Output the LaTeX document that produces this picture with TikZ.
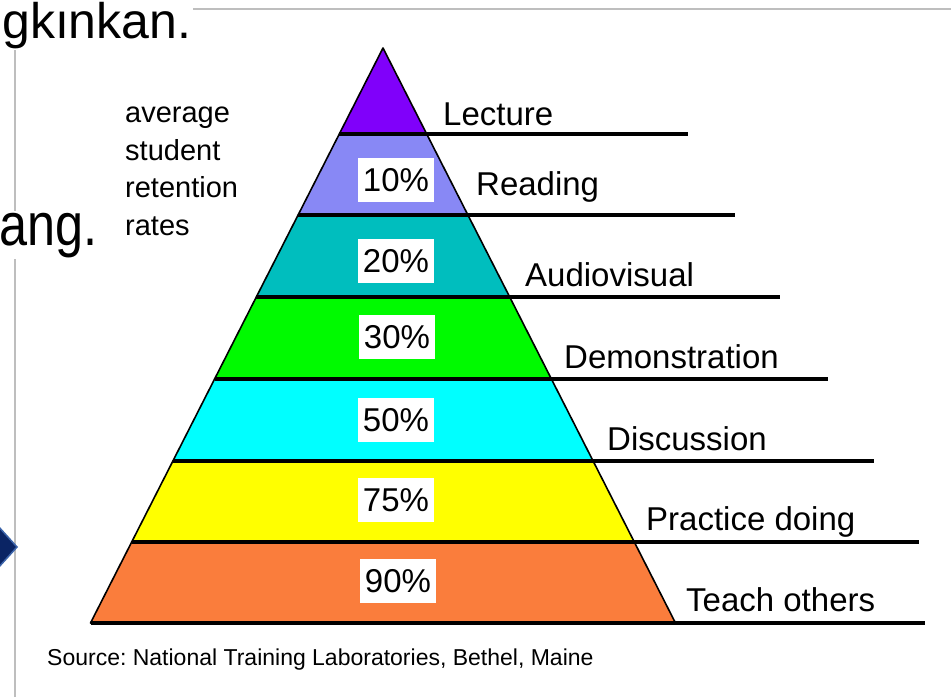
\documentclass[tikz,border=0pt]{standalone}
\usepackage{fontspec}
\setmainfont{Liberation Sans}
\newfontfamily\narrowsans[FakeStretch=0.84]{Liberation Sans}
\definecolor{lecturecol}{RGB}{128,0,250}
\definecolor{readingcol}{RGB}{136,136,245}
\definecolor{avcol}{RGB}{0,190,190}
\definecolor{democol}{RGB}{0,250,0}
\definecolor{discol}{RGB}{0,255,255}
\definecolor{practicecol}{RGB}{255,255,0}
\definecolor{teachcol}{RGB}{250,125,60}
\definecolor{framegray}{RGB}{190,190,190}
\definecolor{arrowblue}{RGB}{10,36,100}
\definecolor{arrowedge}{RGB}{60,100,170}
\begin{document}
\begin{tikzpicture}[x=1pt,y=-1pt,
  band/.style={draw=black,line width=1.6pt,line join=round},
  rim/.style={line width=3.2pt},
  pct/.style={fill=white,inner xsep=5pt,inner ysep=0pt,minimum height=44pt,font=\fontsize{33}{40}\selectfont},
  lbl/.style={anchor=base west,inner sep=0pt,font=\fontsize{33}{40}\selectfont},
  cutword/.style={fill=white,inner sep=2pt,anchor=base west}]
\useasboundingbox (0,0) rectangle (951,697);
\clip (0,0) rectangle (951,697);
\fill[white] (0,0) rectangle (951,697);
% slide frame, arrow and cut words
\draw[framegray,line width=2pt] (15,697) -- (15,8.5) -- (951,8.5);
\filldraw[fill=arrowblue,draw=arrowedge,line width=1.5pt] (-2,526) -- (17,547) -- (-2,568) -- (-21,547) -- cycle;
\node[cutword,font=\fontsize{50}{60}\selectfont] (cutone) at (0,38) {gkınkan.};
\node[cutword,font=\narrowsans\fontsize{60}{72}\selectfont] (cuttwo) at (-3,245) {ang.};
% pyramid
\coordinate (apex) at (383,48);
\coordinate (l1) at (339.3,134); \coordinate (r1) at (426.7,134);
\coordinate (l2) at (298.1,215); \coordinate (r2) at (467.9,215);
\coordinate (l3) at (256.3,297); \coordinate (r3) at (509.7,297);
\coordinate (l4) at (214.6,379); \coordinate (r4) at (551.4,379);
\coordinate (l5) at (172.9,461); \coordinate (r5) at (593.1,461);
\coordinate (l6) at (131.7,542); \coordinate (r6) at (634.3,542);
\coordinate (l7) at (90.5,623); \coordinate (r7) at (675.5,623);
\filldraw[band,fill=lecturecol] (apex) -- (l1) -- (r1) -- cycle;
\filldraw[band,fill=readingcol] (l1) -- (l2) -- (r2) -- (r1) -- cycle;
\filldraw[band,fill=avcol] (l2) -- (l3) -- (r3) -- (r2) -- cycle;
\filldraw[band,fill=democol] (l3) -- (l4) -- (r4) -- (r3) -- cycle;
\filldraw[band,fill=discol] (l4) -- (l5) -- (r5) -- (r4) -- cycle;
\filldraw[band,fill=practicecol] (l5) -- (l6) -- (r6) -- (r5) -- cycle;
\filldraw[band,fill=teachcol] (l6) -- (l7) -- (r7) -- (r6) -- cycle;
% lines out to the right
\coordinate (e1) at (688,134);
\coordinate (e2) at (735,215);
\coordinate (e3) at (780,297);
\coordinate (e4) at (828,379);
\coordinate (e5) at (874,461);
\coordinate (e6) at (919,542);
\coordinate (e7) at (925,623);
\draw[rim] (l1) -- (e1);
\draw[rim] (l2) -- (e2);
\draw[rim] (l3) -- (e3);
\draw[rim] (l4) -- (e4);
\draw[rim] (l5) -- (e5);
\draw[rim] (l6) -- (e6);
\draw[rim] (l7) -- (e7);
% methods
\node[lbl] (lecture) at (443,125) {Lecture};
\node[lbl] (reading) at (476,195) {Reading};
\node[lbl] (audiovisual) at (525,286) {Audiovisual};
\node[lbl] (demonstration) at (564,368) {Demonstration};
\node[lbl] (discussion) at (607,450) {Discussion};
\node[lbl] (practice) at (646,530) {Practice doing};
\node[lbl] (teach) at (686,611) {Teach others};
% retention rates
\node[pct] (p10) at (396,180) {10\%};
\node[pct] (p20) at (396,261) {20\%};
\node[pct] (p30) at (397,337) {30\%};
\node[pct] (p50) at (396,420) {50\%};
\node[pct] (p75) at (396,500) {75\%};
\node[pct] (p90) at (398,581) {90\%};
\node[anchor=north west,inner sep=0pt,align=left,font=\fontsize{29}{37.5}\selectfont] (rates) at (125,107) {average\\student\\retention\\rates};
\node[anchor=base west,inner sep=0pt,font=\fontsize{23}{28}\selectfont\frenchspacing] (source) at (47,665) {Source: National Training Laboratories, Bethel, Maine};
\end{tikzpicture}
\end{document}
